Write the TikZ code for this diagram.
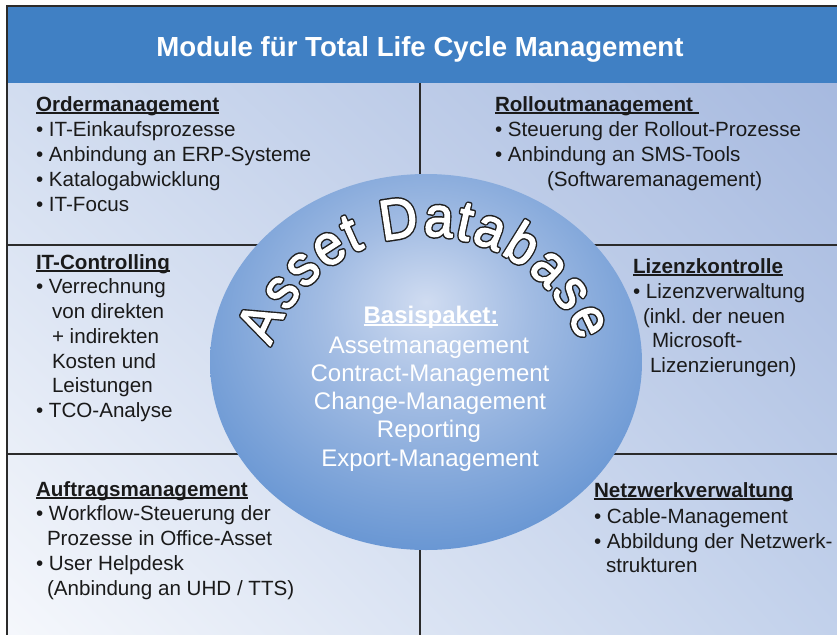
\documentclass[tikz,border=0pt]{standalone}
\usepackage{fontspec}
\setmainfont{Liberation Sans}
\usetikzlibrary{shadings}
\definecolor{hdr}{HTML}{4080C4}
\definecolor{txt}{HTML}{1A1A1A}
\definecolor{linec}{HTML}{2B2B2B}
\definecolor{bgUL}{HTML}{D2DDF0}
\definecolor{bgUR}{HTML}{A6B9DF}
\definecolor{bgLL}{HTML}{F6F8FC}
\definecolor{bgLR}{HTML}{C2D1EB}
\definecolor{ellA}{HTML}{D0DCF1}
\definecolor{ellB}{HTML}{A2BCE3}
\definecolor{ellC}{HTML}{6896D3}
\definecolor{ellD}{HTML}{3E7BC0}
\pgfdeclareradialshading{ellshade}{\pgfpoint{0bp}{8bp}}{color(0bp)=(ellA); color(12bp)=(ellB); color(30bp)=(ellC); color(46bp)=(ellD); color(70bp)=(ellD)}
\newcommand\ulh[1]{\setbox0=\hbox{#1}\rlap{\rule[-2.6pt]{\wd0}{1.4pt}}\box0}
% outlined letter: dark thick stroke underneath, white fill + thin white stroke on top
\newcommand\olchar[1]{%
  \rlap{\special{pdf:literal direct 0.12 0.12 0.12 RG 0.12 0.12 0.12 rg 4.2 w 1 j 2 Tr}#1\special{pdf:literal direct 0 Tr}}%
  \special{pdf:literal direct 1 1 1 RG 1 1 1 rg 1.2 w 1 j 2 Tr}#1\special{pdf:literal direct 0 Tr}}
\tikzset{
  body/.style={anchor=base west, text=txt, font=\fontsize{20.6}{25}\selectfont},
  head/.style={anchor=base west, text=txt, font=\fontsize{20.6}{25}\selectfont\bfseries},
  ctr/.style={anchor=base, text=white, font=\fontsize{24}{28}\selectfont},
  arcletter/.style={anchor=base, font=\fontsize{57}{60}\selectfont},
  divider/.style={draw=linec, line width=1.2pt},
  frame/.style={draw=linec, line width=2pt}
}
\begin{document}
\begin{tikzpicture}[x=1pt,y=-1pt, every node/.style={inner sep=0pt, outer sep=0pt}]
\useasboundingbox (0,0) rectangle (837,634);
\begin{scope}
\clip (0,0) rectangle (837,634);
\shade[upper left=bgUL, upper right=bgUR, lower left=bgLL, lower right=bgLR] (7,83) rectangle (845,645);
\fill[hdr] (7,6) rectangle (845,83);
\draw[divider] (420,83) -- (420,645);
\draw[divider] (7,245) -- (845,245);
\draw[divider] (7,454) -- (845,454);
\draw[frame] (7,645) -- (7,6) -- (845,6);
\end{scope}
\shade[shading=ellshade] (426,362) ellipse [x radius=216, y radius=188];

\node[anchor=base, text=white, font=\fontsize{27.6}{30}\selectfont\bfseries] (title) at (420,56.5) {Module für Total Life Cycle Management};

% top left
\node[head] (tl0) at (36,111) {\ulh{Ordermanagement}};
\node[body] (tl1) at (36,136) {• IT-Einkaufsprozesse};
\node[body] (tl2) at (36,161) {• Anbindung an ERP-Systeme};
\node[body] (tl3) at (36,186) {• Katalogabwicklung};
\node[body] (tl4) at (36,211) {• IT-Focus};
% top right
\node[head] (tr0) at (495,111) {\ulh{Rolloutmanagement\ }};
\node[body] (tr1) at (495,136) {• Steuerung der Rollout-Prozesse};
\node[body] (tr2) at (495,161) {• Anbindung an SMS-Tools};
\node[body] (tr3) at (547,186) {(Softwaremanagement)};
% middle left
\node[head] (ml0) at (36,269) {\ulh{IT-Controlling}};
\node[body] (ml1) at (36,293) {• Verrechnung};
\node[body] (ml2) at (52,318) {von direkten};
\node[body] (ml3) at (52,343) {+ indirekten};
\node[body] (ml4) at (52,368) {Kosten und};
\node[body] (ml5) at (52,392) {Leistungen};
\node[body] (ml6) at (36,417) {• TCO-Analyse};
% middle right
\node[head] (mr0) at (633,273) {\ulh{Lizenzkontrolle}};
\node[body] (mr1) at (633,298) {• Lizenzverwaltung};
\node[body] (mr2) at (643,323) {(inkl.\ der neuen};
\node[body] (mr3) at (652,347) {Microsoft-};
\node[body] (mr4) at (650,372) {Lizenzierungen)};
% bottom left
\node[head] (bl0) at (36,496) {\ulh{Auftragsmanagement}};
\node[body] (bl1) at (36,520) {• Workflow-Steuerung der};
\node[body] (bl2) at (47,545) {Prozesse in Office-Asset};
\node[body] (bl3) at (36,570) {• User Helpdesk};
\node[body] (bl4) at (47,595) {(Anbindung an UHD / TTS)};
% bottom right
\node[head] (br0) at (594,497) {\ulh{Netzwerkverwaltung}};
\node[body] (br1) at (594,523) {• Cable-Management};
\node[body] (br2) at (594,548) {• Abbildung der Netzwerk-};
\node[body] (br3) at (606,572) {strukturen};

% centre
\node[ctr, font=\fontsize{24}{28}\selectfont\bfseries] (c0) at (431,323) {\ulh{Basispaket:}};
\node[ctr] (c1) at (429,353) {Assetmanagement};
\node[ctr] (c2) at (430,381) {Contract-Management};
\node[ctr] (c3) at (430,409) {Change-Management};
\node[ctr] (c4) at (429,437) {Reporting};
\node[ctr] (c5) at (430,466) {Export-Management};

% arc text
\foreach \ch/\c [count=\i] in {A/333.5,s/917,s/1417,e/1945,t/2362,D/3140,a/3779,t/4196,a/4613,b/5169,a/5725,s/6253,e/6781}{
  \pgfmathsetmacro\ang{161.5-\c*0.0200}
  \node[arcletter, rotate=\ang-90, xscale=0.92] (arc\i) at ({426+164*cos(\ang)},{400-164*sin(\ang)}) {\olchar{\ch}};
}
\end{tikzpicture}
\end{document}
